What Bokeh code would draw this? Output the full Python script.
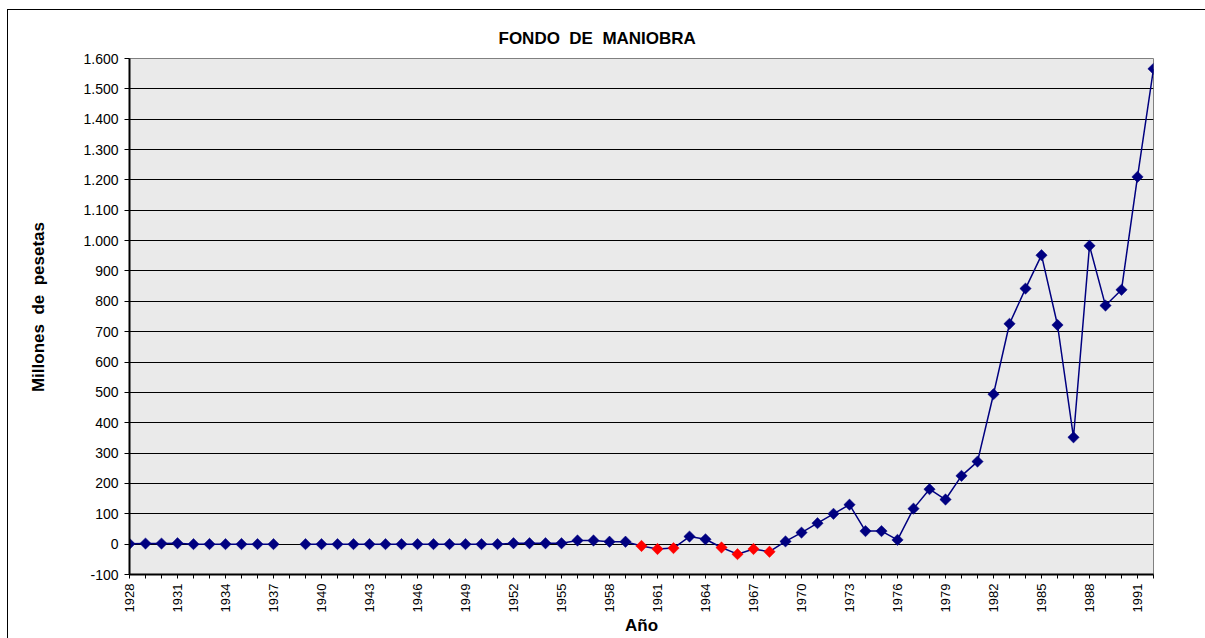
import math
from bokeh.plotting import figure
from bokeh.models import Range1d, FixedTicker, ColumnDataSource, Title
from bokeh.embed import file_html
from bokeh.resources import INLINE

# ---- data ----
years = list(range(1928, 1993))
values = [
    1, 2, 2, 3, 0, 0, 0, 0, 0, 0,          # 1928-1937
    None,                                  # 1938 (no data)
    0, 0, 0, 0, 0, 0, 0, 0, 0, 0, 0, 0, 0, # 1939-1951
    3, 3, 3, 3, 12, 12, 8, 8,              # 1952-1959
    -6, -16, -13, 25, 16, -11, -33, -16, -25,  # 1960-1968
    9, 38, 69, 100, 130, 43, 43, 14, 117, 181, 147,  # 1969-1979
    225, 272, 494, 726, 842, 952, 722, 352, 983, 786, 838, 1210, 1566,  # 1980-1992
]
y_ticks = list(range(-100, 1700, 100))
x_label_years = list(range(1928, 1993, 3))

NB = "\u00a0"
title_text = f"FONDO{NB}{NB}DE{NB}{NB}MANIOBRA"
x_title = "Año"
y_title = f"{NB * 4}Millones{NB}{NB}de{NB}{NB}pesetas"

POS_COLOR = "#000080"
NEG_COLOR = "#ff0000"

vals = [float("nan") if v is None else float(v) for v in values]
colors = [NEG_COLOR if (v is not None and v < 0) else POS_COLOR for v in values]
src = ColumnDataSource(dict(x=years, y=vals, c=colors))

W, H = 1205, 638
p = figure(
    width=W, height=H,
    x_range=Range1d(years[0], years[-1]),
    y_range=Range1d(y_ticks[0], y_ticks[-1]),
    output_backend="svg", toolbar_location=None,
    min_border_left=129, min_border_right=52,
    min_border_top=58, min_border_bottom=62,
)
p.background_fill_color = "#eaeaea"
p.border_fill_color = None
p.outline_line_color = "#808080"
p.outline_line_width = 1
# outer chart border (left and top edges only), painted behind the transparent canvas border area
p.styles = {
    "background-color": "#ffffff",
    "background-image": "linear-gradient(#000000, #000000), linear-gradient(#000000, #000000)",
    "background-position": "7px 9px, 7px 9px",
    "background-size": "1px 700px, 1300px 1px",
    "background-repeat": "no-repeat, no-repeat",
}

t = Title(text=title_text, align="left", offset=369, text_font="Liberation Sans",
          text_font_size="17px", text_font_style="bold", text_color="#000000", standoff=21)
p.add_layout(t, "above")

# grid
p.xgrid.grid_line_color = None
p.ygrid.grid_line_color = "#000000"
p.ygrid.grid_line_width = 1

# axes
ya = p.yaxis[0]
ya.ticker = FixedTicker(ticks=y_ticks)
ya.major_label_overrides = {v: f"{v:,}".replace(",", ".") for v in y_ticks}
ya.minor_tick_line_color = None
ya.major_tick_out = 5
ya.major_tick_in = 0
ya.major_label_standoff = 6
ya.axis_line_width = 2
ya.axis_line_color = "#000000"
ya.major_tick_line_color = "#000000"
ya.major_label_text_font = "Liberation Sans"
ya.major_label_text_font_size = "14px"
ya.major_label_text_color = "#000000"
ya.axis_label = y_title
ya.axis_label_text_font = "Liberation Sans"
ya.axis_label_text_font_size = "17px"
ya.axis_label_text_font_style = "bold"
ya.axis_label_text_color = "#000000"
ya.axis_label_standoff = 32

xa = p.xaxis[0]
xa.ticker = FixedTicker(ticks=years)
xa.major_label_overrides = {y: (str(y) if y in x_label_years else "") for y in years}
xa.major_label_orientation = math.pi / 2
xa.minor_tick_line_color = None
xa.major_tick_out = 4
xa.major_tick_in = 0
xa.major_label_standoff = 5
xa.axis_line_width = 2
xa.axis_line_color = "#000000"
xa.major_tick_line_color = "#000000"
xa.major_label_text_font = "Liberation Sans"
xa.major_label_text_font_size = "13px"
xa.major_label_text_color = "#000000"
xa.axis_label = x_title
xa.axis_label_text_font = "Liberation Sans"
xa.axis_label_text_font_size = "17px"
xa.axis_label_text_font_style = "bold"
xa.axis_label_text_color = "#000000"
xa.axis_label_standoff = 1

p.line("x", "y", source=src, line_color=POS_COLOR, line_width=1.5)
p.scatter("x", "y", source=src, marker="square", angle=math.pi / 4, size=8,
          fill_color="c", line_color="c", line_width=0.5)

open("out.html", "w").write(file_html(p, INLINE))
